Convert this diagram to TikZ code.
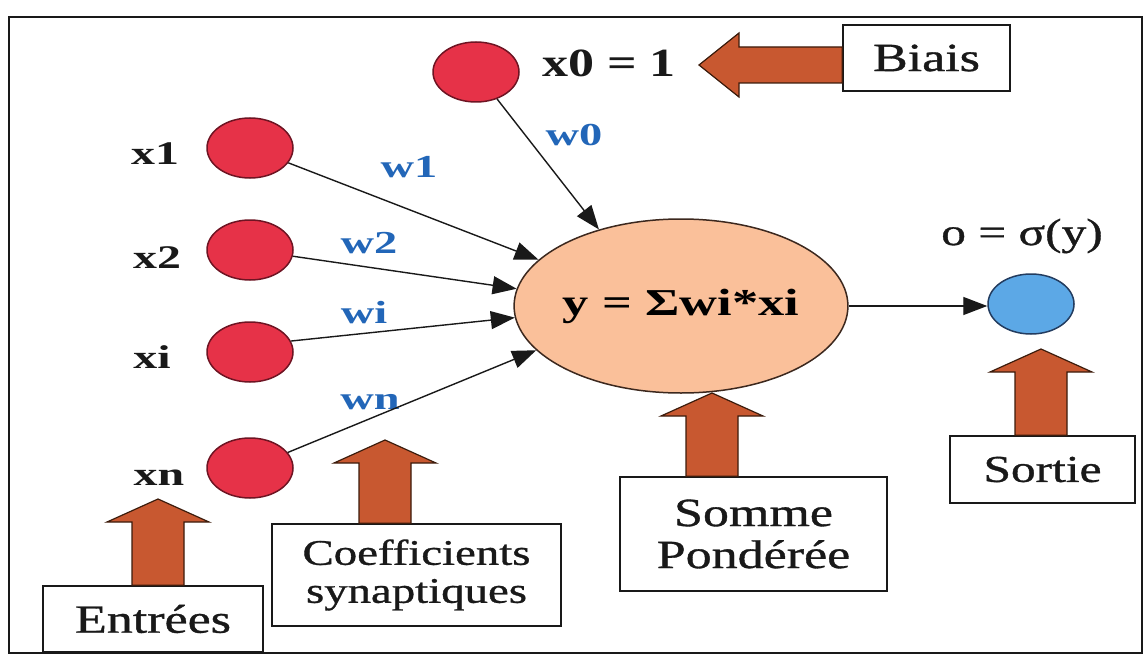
\documentclass[tikz,border=0pt]{standalone}
\usepackage{graphicx}
\usepackage{fontspec}
\setmainfont{Liberation Serif}
% slightly heavier upright face for the captions
\newfontfamily\capfont[FakeBold=0.8]{Liberation Serif}
\usetikzlibrary{shapes.geometric,arrows.meta,calc}

\definecolor{redfill}{RGB}{230,50,72}
\definecolor{redline}{RGB}{110,20,35}
\definecolor{bluefill}{RGB}{92,168,230}
\definecolor{blueline}{RGB}{35,60,95}
\definecolor{peach}{RGB}{250,192,154}
\definecolor{peachline}{RGB}{60,40,30}
\definecolor{rust}{RGB}{200,88,48}
\definecolor{rustline}{RGB}{60,28,12}
\definecolor{wblue}{RGB}{34,102,184}
\definecolor{ink}{RGB}{25,25,25}

% horizontally widened lettering
\newcommand\hs[1]{\scalebox{1.3}[1]{#1}}
\newcommand\hw[1]{\scalebox{1.45}[1]{#1}}

% vertical block arrow: #1 = tip, #2 = point on the tail edge
\newcommand\vblock[2]{%
  \draw[blockarrow] let \p1=(#1), \p2=(#2) in
    (\x1-26pt,\y2) -- (\x1-26pt,\y1-23pt) -- (\x1-51pt,\y1-23pt) -- (\x1,\y1)
    -- (\x1+51pt,\y1-23pt) -- (\x1+26pt,\y1-23pt) -- (\x1+26pt,\y2) -- cycle;}

\begin{document}
\begin{tikzpicture}[x=1pt,y=-1pt,
  neuron/.style={ellipse,draw=redline,fill=redfill,line width=1.5pt,
    minimum width=86pt,minimum height=60pt,inner sep=0pt},
  outneuron/.style={neuron,draw=blueline,fill=bluefill},
  sumnode/.style={ellipse,draw=peachline,fill=peach,line width=1.5pt,
    minimum width=330pt,minimum height=174pt,inner sep=0pt,
    font=\fontsize{38}{40}\selectfont\bfseries},
  xlabel/.style={inner sep=0pt,font=\fontsize{33}{36}\selectfont\bfseries,text=ink},
  wlabel/.style={inner sep=0pt,font=\fontsize{32}{34}\selectfont\bfseries,text=wblue},
  labelbox/.style={draw=ink,fill=white,line width=1.6pt,inner sep=0pt,align=center,
    text=ink,font=\fontsize{40}{42}\selectfont\capfont},
  link/.style={draw=ink,line width=1.4pt,-{Triangle[length=24pt,width=18pt]}},
  blockarrow/.style={draw=rustline,fill=rust,line width=1.2pt,line join=miter},
  frame/.style={draw=ink,line width=2.5pt}]

\useasboundingbox (0,0) rectangle (1147,663);
\fill[white] (0,0) rectangle (1147,663);
\draw[frame] (9,17) rectangle (1142,653);

% neurons
\node[neuron] (x0) at (476,72) {};
\node[neuron] (x1) at (250,148) {};
\node[neuron] (x2) at (250,250) {};
\node[neuron] (xi) at (250,352) {};
\node[neuron] (xn) at (250,468) {};
\node[sumnode] (sum) at (681,306) {\scalebox{1.38}[1]{y = Σwi*xi}};
\node[outneuron] (out) at (1031,304) {};

% input labels
\node[xlabel] (lx1) at (155,154) {\hw{x1}};
\node[xlabel] (lx2) at (157,258) {\hw{x2}};
\node[xlabel] (lxi) at (152,357) {\hw{xi}};
\node[xlabel] (lxn) at (159,478) {\hw{xn}};
\node[xlabel,font=\fontsize{40}{42}\selectfont\bfseries] (lx0) at (609,63) {\hs{x0 = 1}};
\node[inner sep=0pt,text=ink,font=\fontsize{38}{40}\selectfont\capfont] (lout) at (1022,236) {\hs{o = σ(y)}};

% weights
\node[wlabel] (w0) at (574,135) {\hw{w0}};
\node[wlabel] (w1) at (409,167) {\hw{w1}};
\node[wlabel] (w2) at (369,243) {\hw{w2}};
\node[wlabel] (wi) at (364,313) {\hw{wi}};
\node[wlabel] (wn) at (370,402) {\hw{wn}};

% captions
\node[labelbox,minimum width=167pt,minimum height=66pt] (biais) at (926.5,58) {\hs{Biais}};
\node[labelbox,minimum width=220pt,minimum height=66pt] (entrees) at (153,619) {\hs{Entrées}};
\node[labelbox,minimum width=289pt,minimum height=102pt,
      font=\fontsize{36}{38}\selectfont\capfont] (coef) at (416.5,575) {\hs{Coefficients}\\\hs{synaptiques}};
\node[labelbox,minimum width=267pt,minimum height=114pt] (somme) at (753.5,534) {\hs{Somme}\\\hs{Pondérée}};
\node[labelbox,minimum width=185pt,minimum height=67pt,
      font=\fontsize{38}{40}\selectfont\capfont] (sortie) at (1042.5,469.5) {\hs{Sortie}};

% weighted connections
\draw[link] (x0) -- (sum.137);
\draw[link] (x1) -- (sum.162.6);
\draw[link] (x2) -- (sum.174);
\draw[link] (xi.15) -- (sum.184);
\draw[link] (xn) -- (sum.197);
\draw[link] (sum.east) -- (sum.east -| out.west);

% block arrows from the captions
\coordinate (biaisT) at (699,65);
\draw[blockarrow] let \p1=(biaisT), \p2=(biais.west) in
  (\x2,\y1+18pt) -- (\x1+40pt,\y1+18pt) -- (\x1+40pt,\y1+32pt) -- (\x1,\y1)
  -- (\x1+40pt,\y1-32pt) -- (\x1+40pt,\y1-18pt) -- (\x2,\y1-18pt) -- cycle;
\coordinate (entT) at (158,499);
\coordinate (coefT) at (385,440);
\coordinate (sommeT) at (712,393);
\coordinate (sortT) at (1041,349);
\vblock{entT}{entrees.north}
\vblock{coefT}{coef.north}
\vblock{sommeT}{somme.north}
\vblock{sortT}{sortie.north}

\end{tikzpicture}
\end{document}
